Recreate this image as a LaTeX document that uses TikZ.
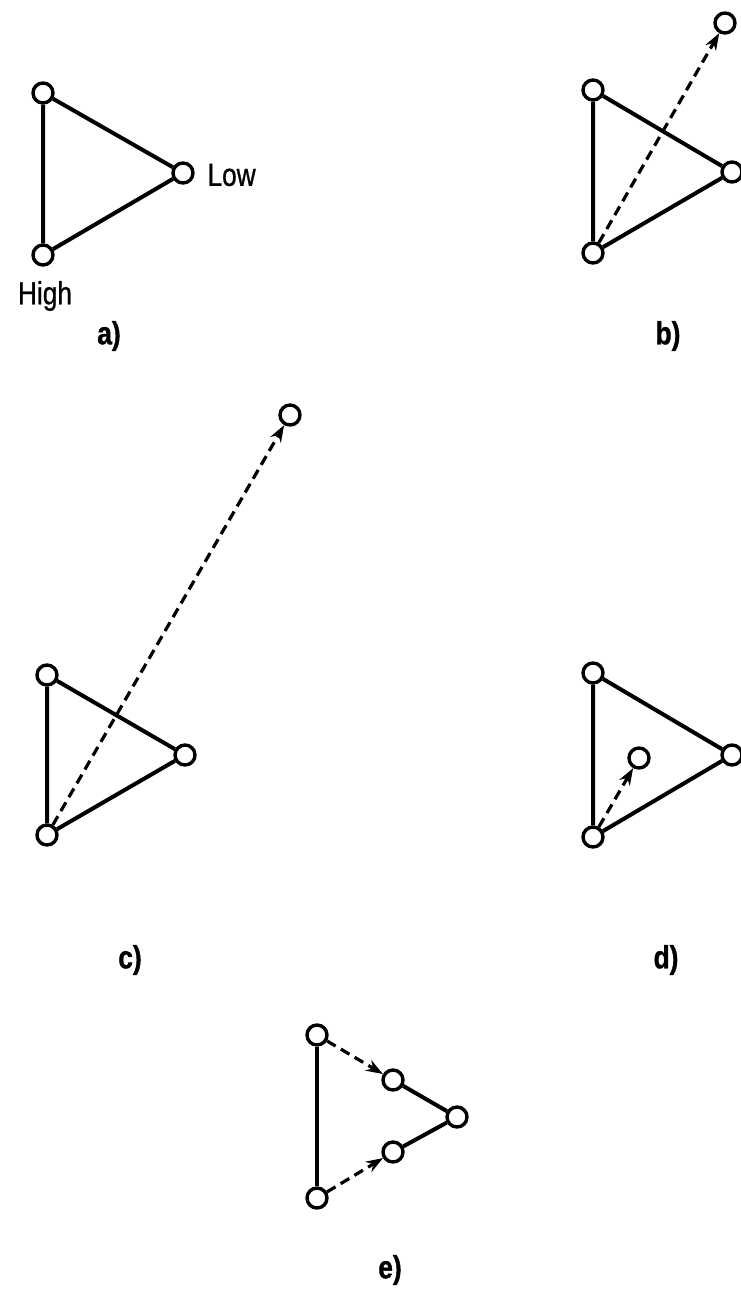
\documentclass[tikz,border=0pt]{standalone}
\usepackage{fontspec}
\setmainfont{Liberation Sans}
\newfontfamily\condfont[FakeStretch=0.82,FakeBold=0.8]{Liberation Sans}
\newfontfamily\condbold[FakeStretch=0.82,FakeBold=1.2]{Liberation Sans Bold}
\usetikzlibrary{arrows.meta}
\begin{document}
\begin{tikzpicture}[x=1pt,y=-1pt,
  vtx/.style={circle,draw,line width=3.4pt,minimum size=20pt,inner sep=0pt,fill=white},
  edge/.style={line width=4pt},
  move/.style={line width=3.2pt,dash pattern=on 10pt off 6pt,-{Stealth[length=17pt,width=12pt]}},
  lbl/.style={font=\condbold\fontsize{32}{36}\selectfont},
  txt/.style={font=\condfont\fontsize{32}{36}\selectfont}]
\useasboundingbox (0,0) rectangle (740,1295);
% a
\node[vtx] (a1) at (43,93) {};
\node[vtx] (a2) at (183,173) {};
\node[vtx] (a3) at (43,255) {};
\draw[edge] (a1) -- (a2) -- (a3) -- (a1);
\node[txt,anchor=west] (low) at (204,175) {Low};
\node[txt] (high) at (45,296) {High};
\node[lbl] (la) at (109,336) {a)};
% b
\node[vtx] (b1) at (593,90) {};
\node[vtx] (b2) at (732,172) {};
\node[vtx] (b3) at (593,253) {};
\node[vtx] (b4) at (725,23) {};
\draw[edge] (b1) -- (b2) -- (b3) -- (b1);
\draw[move] (b3) -- (b4);
\node[lbl] (lb) at (668,336) {b)};
% c
\node[vtx] (c1) at (47,675) {};
\node[vtx] (c2) at (185,755) {};
\node[vtx] (c3) at (47,835) {};
\node[vtx] (c4) at (290,415) {};
\draw[edge] (c1) -- (c2) -- (c3) -- (c1);
\draw[move] (c3) -- (c4);
\node[lbl] (lc) at (130,960) {c)};
% d
\node[vtx] (d1) at (593,673) {};
\node[vtx] (d2) at (732,755) {};
\node[vtx] (d3) at (593,837) {};
\node[vtx] (d4) at (639,758) {};
\draw[edge] (d1) -- (d2) -- (d3) -- (d1);
\draw[move] (d3) -- (d4);
\node[lbl] (ld) at (666,960) {d)};
% e
\node[vtx] (e1) at (317,1035) {};
\node[vtx] (e2) at (393,1080) {};
\node[vtx] (e3) at (457,1117) {};
\node[vtx] (e4) at (393,1152) {};
\node[vtx] (e5) at (317,1198) {};
\draw[edge] (e1) -- (e5);
\draw[edge] (e2) -- (e3) -- (e4);
\draw[move] (e1) -- (e2);
\draw[move] (e5) -- (e4);
\node[lbl] (le) at (390,1270) {e)};
\end{tikzpicture}
\end{document}
